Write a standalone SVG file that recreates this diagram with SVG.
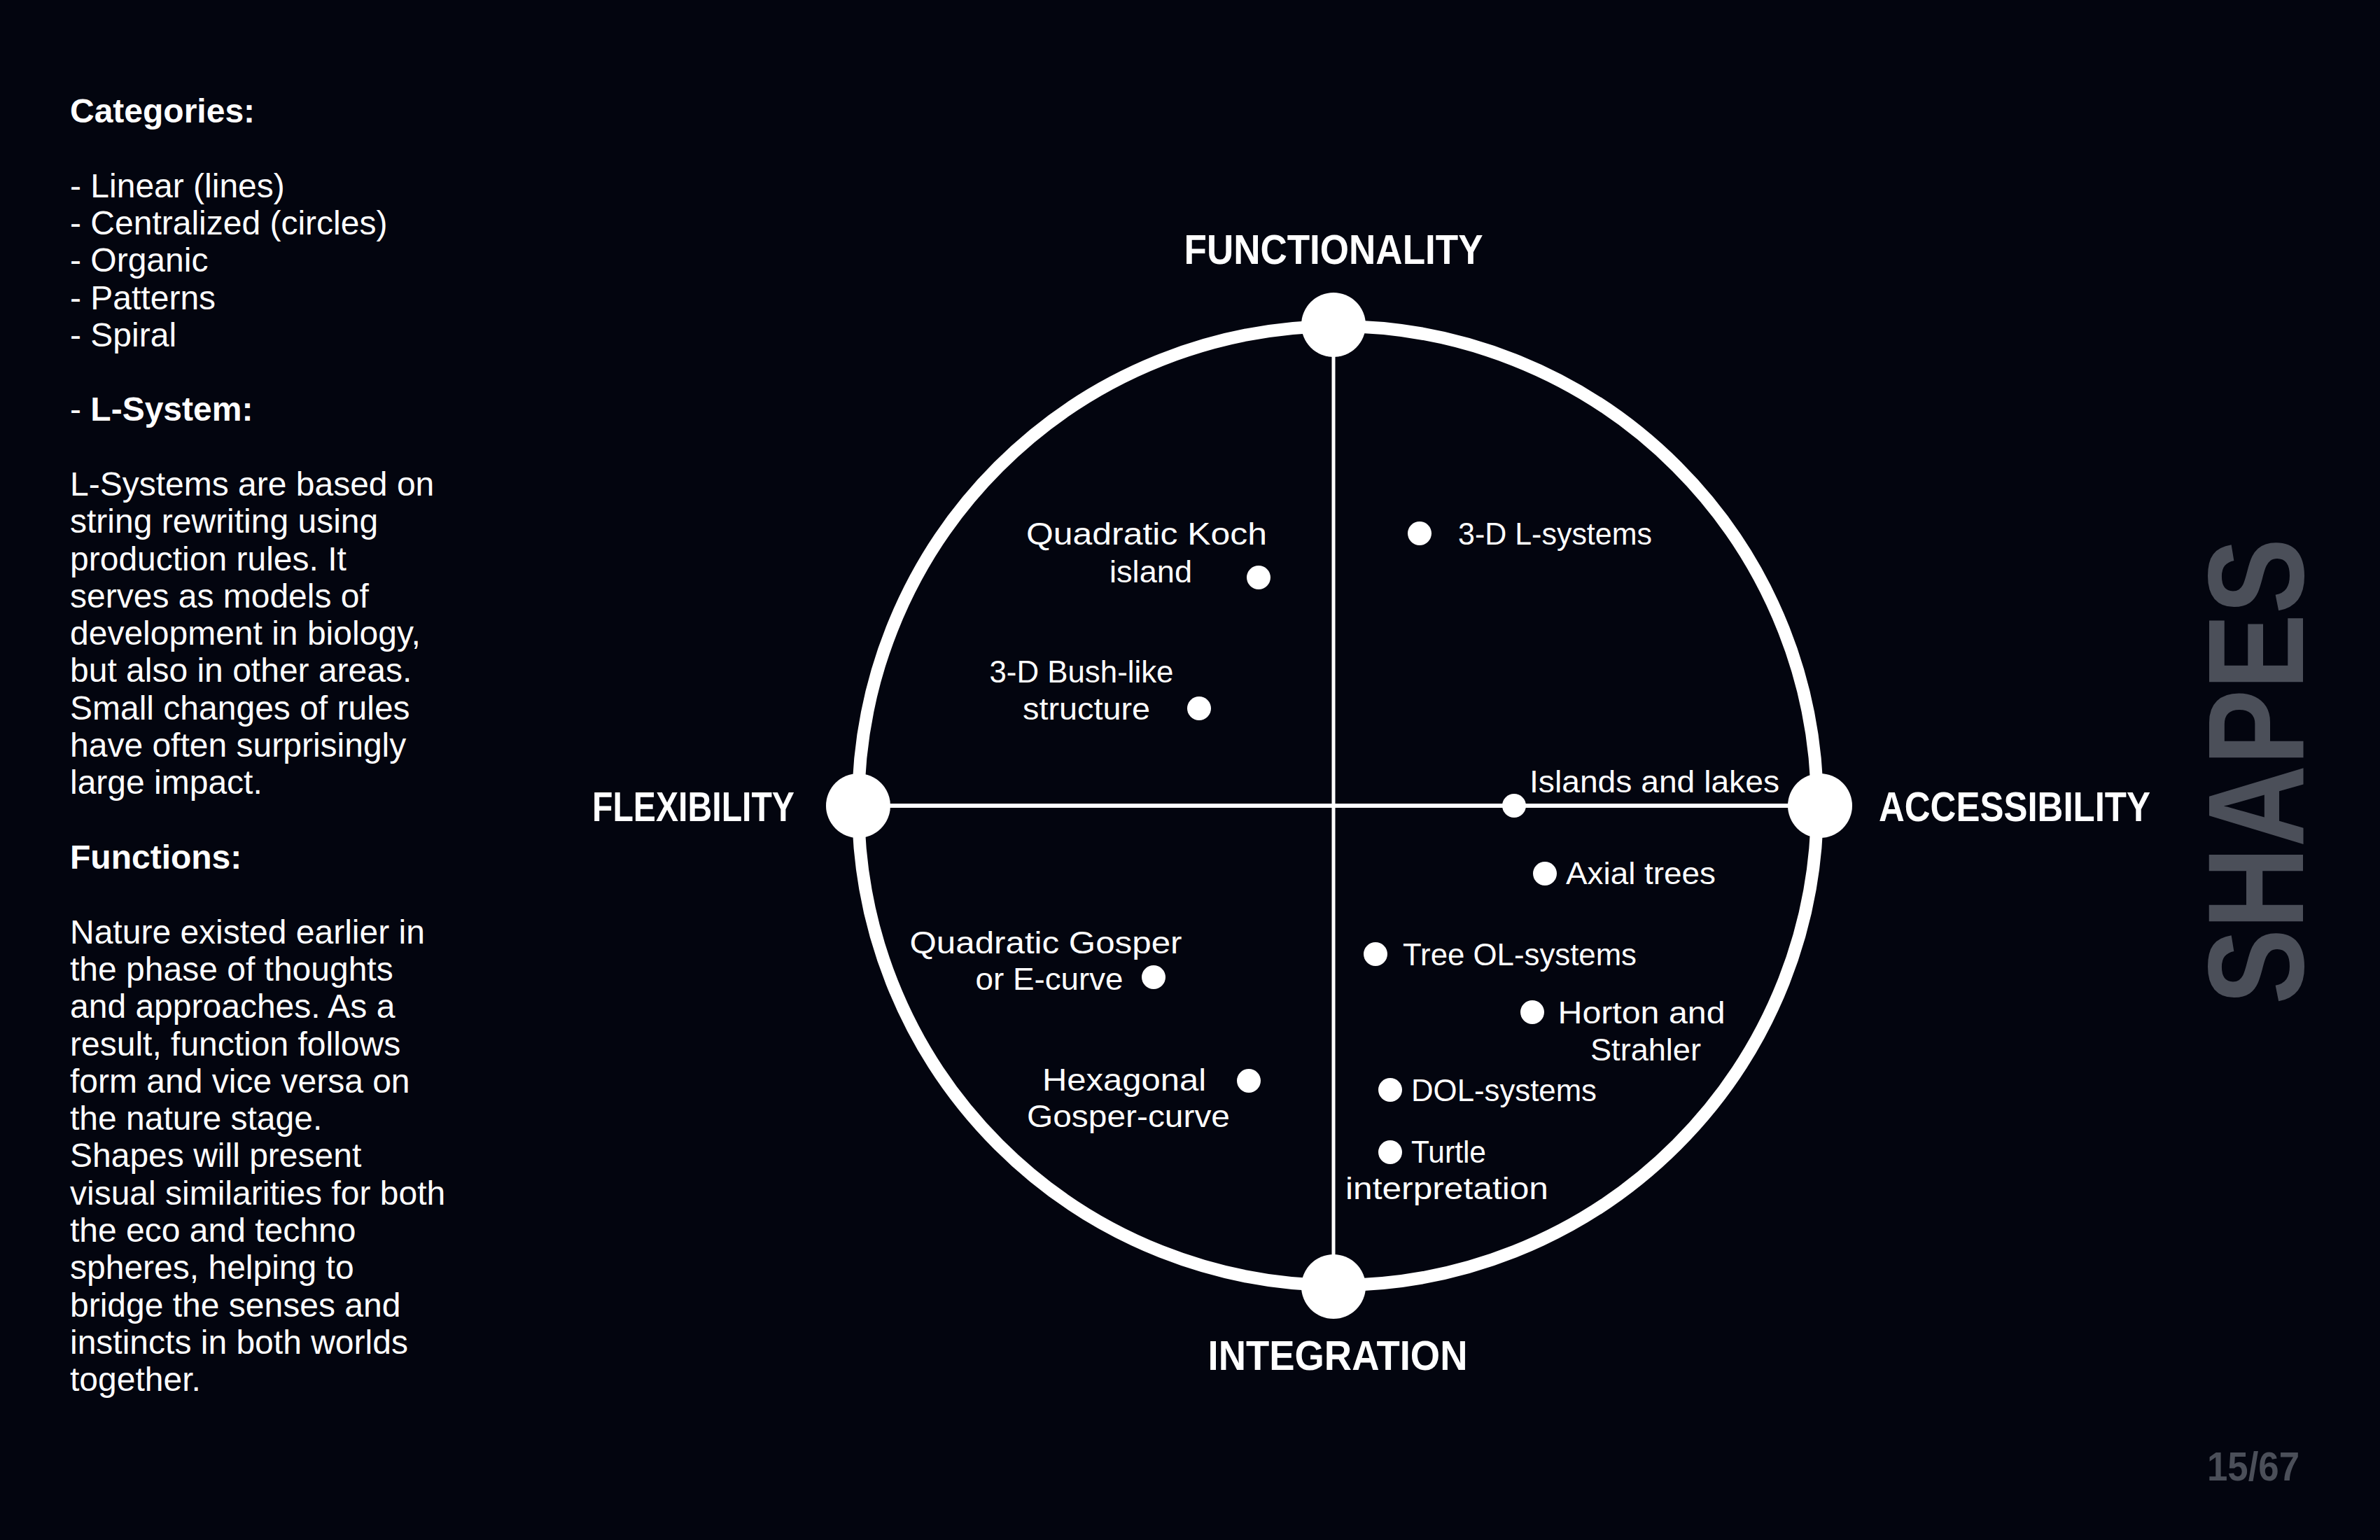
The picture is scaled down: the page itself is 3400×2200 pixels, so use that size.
<svg xmlns="http://www.w3.org/2000/svg" width="3400" height="2200" viewBox="0 0 3400 2200">
<style>
.side{font-family:"Liberation Sans",Arial,sans-serif;font-size:48px;fill:#ffffff}
.b{font-weight:bold}
.axis{font-family:"Liberation Sans",Arial,sans-serif;font-size:60px;font-weight:bold;fill:#ffffff}
.lbl{font-family:"Liberation Sans",Arial,sans-serif;font-size:44px;fill:#ffffff}
.node{fill:#ffffff}
.dot{fill:#ffffff}
.conn{stroke:#ffffff;fill:none}
.gray{font-family:"Liberation Sans",Arial,sans-serif;font-weight:bold;fill:#4b4f59}
</style>
<rect x="0" y="0" width="3400" height="2200" fill="#03050f"/>

<g id="side-text">
<text class="side" x="100" y="175">
<tspan x="100" class="b">Categories:</tspan>
<tspan x="100" dy="106.6">- Linear (lines)</tspan>
<tspan x="100" dy="53.3">- Centralized (circles)</tspan>
<tspan x="100" dy="53.3">- Organic</tspan>
<tspan x="100" dy="53.3">- Patterns</tspan>
<tspan x="100" dy="53.3">- Spiral</tspan>
<tspan x="100" dy="106.6">- <tspan class="b">L-System:</tspan></tspan>
<tspan x="100" dy="106.6">L-Systems are based on</tspan>
<tspan x="100" dy="53.3">string rewriting using</tspan>
<tspan x="100" dy="53.3">production rules. It</tspan>
<tspan x="100" dy="53.3">serves as models of</tspan>
<tspan x="100" dy="53.3">development in biology,</tspan>
<tspan x="100" dy="53.3">but also in other areas.</tspan>
<tspan x="100" dy="53.3">Small changes of rules</tspan>
<tspan x="100" dy="53.3">have often surprisingly</tspan>
<tspan x="100" dy="53.3">large impact.</tspan>
<tspan x="100" dy="106.6" class="b">Functions:</tspan>
<tspan x="100" dy="106.6">Nature existed earlier in</tspan>
<tspan x="100" dy="53.3">the phase of thoughts</tspan>
<tspan x="100" dy="53.3">and approaches. As a</tspan>
<tspan x="100" dy="53.3">result, function follows</tspan>
<tspan x="100" dy="53.3">form and vice versa on</tspan>
<tspan x="100" dy="53.3">the nature stage.</tspan>
<tspan x="100" dy="53.3">Shapes will present</tspan>
<tspan x="100" dy="53.3">visual similarities for both</tspan>
<tspan x="100" dy="53.3">the eco and techno</tspan>
<tspan x="100" dy="53.3">spheres, helping to</tspan>
<tspan x="100" dy="53.3">bridge the senses and</tspan>
<tspan x="100" dy="53.3">instincts in both worlds</tspan>
<tspan x="100" dy="53.3">together.</tspan>
</text>
</g>

<circle id="ring" cx="1911" cy="1151" r="685" fill="none" stroke="#ffffff" stroke-width="18"/>

<g id="connectors">
<line class="conn" x1="1905" y1="464" x2="1905" y2="1838" stroke-width="5"/>
<line class="conn" x1="1226" y1="1151" x2="2600" y2="1151" stroke-width="6"/>
</g>

<g id="node-functionality">
<circle class="node" cx="1905" cy="464" r="46"/>
<text class="axis" x="1905" y="377" text-anchor="middle" textLength="427" lengthAdjust="spacingAndGlyphs">FUNCTIONALITY</text>
</g>
<g id="node-flexibility">
<circle class="node" cx="1226" cy="1151" r="46"/>
<text class="axis" x="846" y="1173" textLength="289" lengthAdjust="spacingAndGlyphs">FLEXIBILITY</text>
</g>
<g id="node-accessibility">
<circle class="node" cx="2600" cy="1151" r="46"/>
<text class="axis" x="2684" y="1173" textLength="388" lengthAdjust="spacingAndGlyphs">ACCESSIBILITY</text>
</g>
<g id="node-integration">
<circle class="node" cx="1905" cy="1838" r="46"/>
<text class="axis" x="1911" y="1957" text-anchor="middle" textLength="371" lengthAdjust="spacingAndGlyphs">INTEGRATION</text>
</g>

<g id="item-quadratic-koch">
<circle class="dot" cx="1798" cy="825" r="17"/>
<text class="lbl" x="1638" y="778" text-anchor="middle" textLength="344" lengthAdjust="spacingAndGlyphs">Quadratic Koch</text>
<text class="lbl" x="1644" y="832" text-anchor="middle" textLength="118" lengthAdjust="spacingAndGlyphs">island</text>
</g>
<g id="item-3d-lsystems">
<circle class="dot" cx="2028" cy="762" r="17"/>
<text class="lbl" x="2083" y="778" textLength="277" lengthAdjust="spacingAndGlyphs">3-D L-systems</text>
</g>
<g id="item-3d-bush">
<circle class="dot" cx="1713" cy="1012" r="17"/>
<text class="lbl" x="1545" y="975" text-anchor="middle" textLength="263" lengthAdjust="spacingAndGlyphs">3-D Bush-like</text>
<text class="lbl" x="1552" y="1028" text-anchor="middle" textLength="182" lengthAdjust="spacingAndGlyphs">structure</text>
</g>
<g id="item-islands-lakes">
<circle class="dot" cx="2163" cy="1151" r="17"/>
<text class="lbl" x="2185" y="1132" textLength="357" lengthAdjust="spacingAndGlyphs">Islands and lakes</text>
</g>
<g id="item-axial-trees">
<circle class="dot" cx="2207" cy="1248" r="17"/>
<text class="lbl" x="2237" y="1263" textLength="214" lengthAdjust="spacingAndGlyphs">Axial trees</text>
</g>
<g id="item-quadratic-gosper">
<circle class="dot" cx="1648" cy="1396" r="17"/>
<text class="lbl" x="1494" y="1362" text-anchor="middle" textLength="389" lengthAdjust="spacingAndGlyphs">Quadratic Gosper</text>
<text class="lbl" x="1499" y="1414" text-anchor="middle" textLength="211" lengthAdjust="spacingAndGlyphs">or E-curve</text>
</g>
<g id="item-tree-ol">
<circle class="dot" cx="1965" cy="1363" r="17"/>
<text class="lbl" x="2004" y="1379" textLength="334" lengthAdjust="spacingAndGlyphs">Tree OL-systems</text>
</g>
<g id="item-horton">
<circle class="dot" cx="2189" cy="1446" r="17"/>
<text class="lbl" x="2345" y="1462" text-anchor="middle" textLength="239" lengthAdjust="spacingAndGlyphs">Horton and</text>
<text class="lbl" x="2351" y="1515" text-anchor="middle" textLength="158" lengthAdjust="spacingAndGlyphs">Strahler</text>
</g>
<g id="item-hexagonal">
<circle class="dot" cx="1784" cy="1544" r="17"/>
<text class="lbl" x="1606" y="1558" text-anchor="middle" textLength="234" lengthAdjust="spacingAndGlyphs">Hexagonal</text>
<text class="lbl" x="1612" y="1610" text-anchor="middle" textLength="290" lengthAdjust="spacingAndGlyphs">Gosper-curve</text>
</g>
<g id="item-dol">
<circle class="dot" cx="1986" cy="1557" r="17"/>
<text class="lbl" x="2016" y="1573" textLength="265" lengthAdjust="spacingAndGlyphs">DOL-systems</text>
</g>
<g id="item-turtle">
<circle class="dot" cx="1986" cy="1646" r="17"/>
<text class="lbl" x="2016" y="1661" textLength="107" lengthAdjust="spacingAndGlyphs">Turtle</text>
<text class="lbl" x="1922" y="1713" textLength="290" lengthAdjust="spacingAndGlyphs">interpretation</text>
</g>

<g id="title">
<text class="gray" transform="translate(3290,1102) rotate(-90)" x="0" y="0" font-size="195" text-anchor="middle" textLength="666" lengthAdjust="spacingAndGlyphs">SHAPES</text>
</g>
<g id="page-number">
<text class="gray" x="3285" y="2115" font-size="57" text-anchor="end" textLength="132" lengthAdjust="spacingAndGlyphs">15/67</text>
</g>
</svg>
